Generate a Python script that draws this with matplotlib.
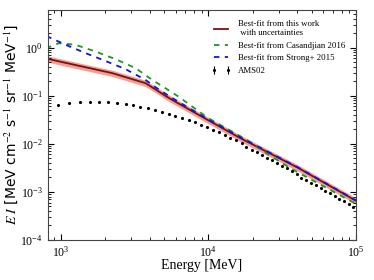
import numpy as np
import matplotlib
matplotlib.use("Agg")
import matplotlib.pyplot as plt

plt.rcParams['font.family'] = 'Liberation Serif'
plt.rcParams['mathtext.fontset'] = 'stix'

# best-fit from this work (E [MeV], E*I)
fit_E = [800, 1331, 2234, 3750, 4385, 5117, 5840, 9800, 16450, 40550, 100000]
fit_I = [0.59, 0.417, 0.294, 0.182, 0.135, 0.099, 0.078, 0.0318, 0.0131, 3.15e-3, 6.5e-4]
fit_err = 0.15  # relative band width

# Casandjian 2016
cas_E = [800, 855, 973, 1262, 1722, 2353, 3213, 4169, 5117, 6140, 10000, 18240, 25000, 36560, 100000]
cas_I = [0.95, 1.05, 1.23, 1.14, 0.826, 0.574, 0.373, 0.213, 0.143, 0.100, 0.034, 0.012, 0.0062, 3.0e-3, 5.6e-4]

# Strong+ 2015
str_E = [800, 834, 1081, 1476, 2000, 2748, 3750, 4385, 5117, 5840, 9800, 16450, 40550, 100000]
str_I = [1.7, 1.64, 1.14, 0.765, 0.529, 0.356, 0.213, 0.150, 0.110, 0.085, 0.033, 0.0136, 3.2e-3, 6.6e-4]

# AMS02 data
ams_E = [959, 1138, 1349, 1577, 1815, 2100, 2416, 2750, 3100, 3472, 3890, 4385, 4869,
         5400, 5990, 6643, 7365, 8168, 8970, 9800, 10760, 11810, 12890, 14080, 15390,
         16890, 17990, 19620, 21200, 22910, 24930, 27060, 29240, 31620, 34190, 36960,
         39930, 42500, 45920, 49390, 53420, 57740, 62060, 66730, 72100, 77150, 83370,
         89660, 95900]
ams_I = [0.0644, 0.0698, 0.0733, 0.0743, 0.0743, 0.0733, 0.0698, 0.0676, 0.0634, 0.0593,
         0.0550, 0.0507, 0.0460, 0.0425, 0.0386, 0.0351, 0.0314, 0.0281, 0.0251, 0.0225,
         0.0197, 0.0174, 0.0155, 0.0134, 0.0120, 0.0106, 8.63e-3, 7.57e-3, 6.68e-3,
         5.87e-3, 5.16e-3, 4.56e-3, 4.01e-3, 3.52e-3, 3.15e-3, 2.77e-3, 2.30e-3, 1.98e-3,
         1.78e-3, 1.56e-3, 1.40e-3, 1.21e-3, 1.06e-3, 9.40e-4, 8.26e-4, 7.26e-4, 6.41e-4,
         5.63e-4, 4.94e-4]

fig = plt.figure(figsize=(3.74, 2.8), dpi=100)
ax = fig.add_axes([0.128, 0.143, 0.824, 0.821])

fit_E = np.array(fit_E)
fit_I = np.array(fit_I)
ax.fill_between(fit_E, fit_I * (1 - fit_err), fit_I * (1 + fit_err), color='#f08070', alpha=0.75, lw=0)
ax.plot(fit_E, fit_I, color='#7a1010', lw=1.3, label='Best-fit from this work\n with uncertainties')
ax.plot(cas_E, cas_I, '--', color='#1a9a1a', lw=1.3, dashes=(3, 3), label='Best-fit from Casandjian 2016')
ax.plot(str_E, str_I, '--', color='#1010ee', lw=1.3, dashes=(3, 3), label='Best-fit from Strong+ 2015')
ams_I = np.array(ams_I)
ax.errorbar(ams_E, ams_I, yerr=0.02 * ams_I, fmt='.', color='k', ms=2.5, elinewidth=0.8,
            capsize=0, label='AMS02')

ax.set_xscale('log')
ax.set_yscale('log')
ax.set_xlim(820, 1e5)
ax.set_ylim(1e-4, 6)
ax.tick_params(which='both', direction='in', top=True, right=True, labelsize=8.5)
ax.tick_params(which='major', length=4)
ax.tick_params(which='minor', length=2)
for s in ax.spines.values():
    s.set_color('#444444')
    s.set_linewidth(0.8)

ax.set_xlabel('Energy [MeV]', fontsize=10, labelpad=0)
ax.set_ylabel(r'$E\ I$ [MeV cm$^{-2}$ s$^{-1}$ sr$^{-1}$ MeV$^{-1}$]', fontsize=10,
              family='DejaVu Sans', labelpad=0)

ax.legend(loc='upper right', frameon=False, fontsize=6.3, numpoints=2, handlelength=2.2,
          labelspacing=0.5, bbox_to_anchor=(0.99, 0.99))

fig.savefig('out.png', dpi=100)
